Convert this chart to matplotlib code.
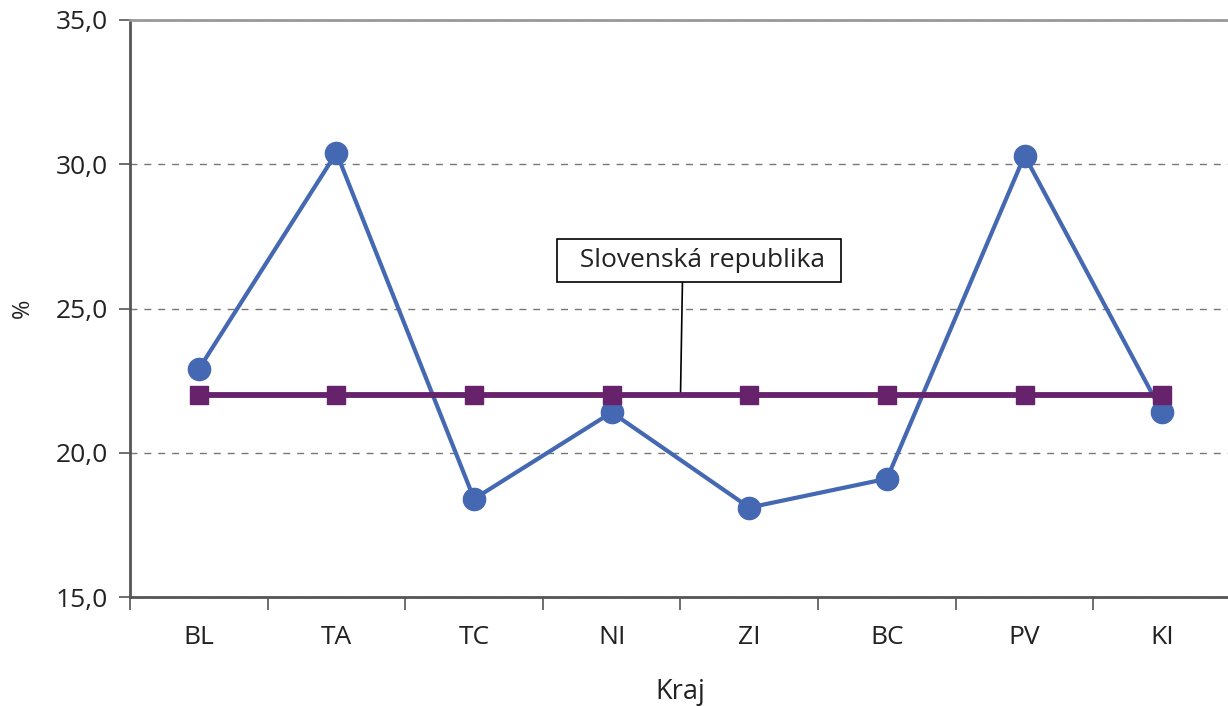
import matplotlib.pyplot as plt
from matplotlib.ticker import FuncFormatter

# udaje podla krajov
kraje = ['BL', 'TA', 'TC', 'NI', 'ZI', 'BC', 'PV', 'KI']
hodnoty = [22.9, 30.4, 18.4, 21.4, 18.1, 19.1, 30.3, 21.4]
sr_hodnota = 22.0
sr_popis = 'Slovenská republika'
y_ticks = [15, 20, 25, 30, 35]

plt.rcParams['font.family'] = ['Open Sans', 'DejaVu Sans']

fig = plt.figure(figsize=(12.28, 7.06), dpi=100)
ax = fig.add_axes([130 / 1228, 109 / 706, 1101 / 1228, 577 / 706])

x = list(range(len(kraje)))
ax.plot(x, hodnoty, color='#4468b1', linewidth=3, marker='o', markersize=16, zorder=3)
ax.plot(x, [sr_hodnota] * len(kraje), color='#66226b', linewidth=4.2,
        marker='s', markersize=12.5, zorder=4)

# popis s ciarou k priemeru SR
ax.annotate('  ' + sr_popis + ' ', xy=(3.5, sr_hodnota), xytext=(3.635, 26.66),
            ha='center', va='center', fontsize=19, color='#222222',
            bbox=dict(boxstyle='square,pad=0.33', fc='white', ec='black', lw=1.2),
            arrowprops=dict(arrowstyle='-', color='black', lw=1.2,
                            relpos=(0.438, 0), shrinkA=0, shrinkB=0))

ax.set_xlim(-0.5, len(kraje) - 0.5)
ax.set_ylim(15, 35)
ax.set_yticks(y_ticks)
ax.yaxis.set_major_formatter(FuncFormatter(lambda v, p: f'{v:.1f}'.replace('.', ',')))
ax.set_xticks(x)
ax.set_xticklabels(kraje)
ax.set_xticks([i - 0.5 for i in range(len(kraje) + 1)], minor=True)
ax.tick_params(axis='x', which='major', length=0, labelsize=19, pad=20, colors='#222222')
ax.tick_params(axis='x', which='minor', length=9, width=1.2, color='#555555')
ax.tick_params(axis='y', length=8, width=1.2, color='#555555', labelsize=19,
               labelcolor='#222222', pad=8)

ax.grid(axis='y', linestyle=(0, (5, 5)), color='#777777', linewidth=1)
ax.set_axisbelow(True)

for s in ['left', 'bottom']:
    ax.spines[s].set_color('#555555')
    ax.spines[s].set_linewidth(2)
ax.spines['top'].set_color('#999999')
ax.spines['top'].set_linewidth(2)
ax.spines['right'].set_visible(False)

ax.set_xlabel('Kraj', fontsize=19.5, color='#222222', labelpad=20)
ax.set_ylabel('%', fontsize=17, color='#222222')
ax.yaxis.set_label_coords(-0.086, 0.5)

fig.savefig('out.png', dpi=100)
